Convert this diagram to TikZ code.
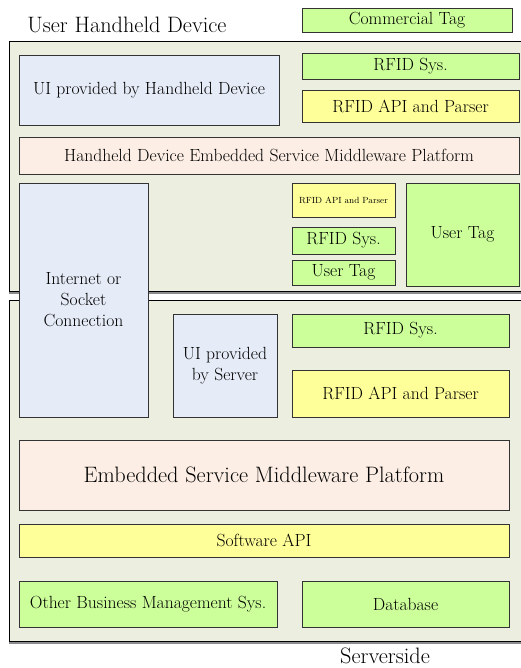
\documentclass[tikz,border=0pt]{standalone}
\usepackage{fontspec}
\setmainfont{Latin Modern Roman}
\usetikzlibrary{shadows}
\definecolor{contfill}{RGB}{236,238,224}
\definecolor{bluefill}{RGB}{230,236,247}
\definecolor{greenfill}{RGB}{204,255,153}
\definecolor{yellowfill}{RGB}{255,255,153}
\definecolor{peachfill}{RGB}{252,238,228}
\definecolor{txt}{RGB}{0,0,0}
\newcommand{\fs}[1]{\fontsize{#1}{21}\selectfont}
\tikzset{
  base/.style={draw=black!80, line width=0.8pt, inner sep=0pt, text=txt, align=center,
     drop shadow={shadow xshift=1.2pt, shadow yshift=-1.2pt, fill=black!55, opacity=1}},
  container/.style={draw=black, line width=1pt, fill=contfill, inner sep=0pt,
     drop shadow={shadow xshift=0pt, shadow yshift=-2.5pt, fill=black!45, opacity=1}},
  bluebox/.style={base, fill=bluefill},
  greenbox/.style={base, fill=greenfill},
  yellowbox/.style={base, fill=yellowfill},
  peachbox/.style={base, fill=peachfill},
}
\newcommand{\bx}[7]{% name, style, x1, y1, x2, y2, text
  \node[#2, minimum width={#5-#3}, minimum height={#6-#4}] (#1) at ({(#3+#5)/2},{(#4+#6)/2}) {#7};}
\begin{document}
\begin{tikzpicture}[x=1pt, y=-1pt]
\clip (0,0) rectangle (521,668);
\fill[white] (0,0) rectangle (521,668);
% containers
\bx{upper}{container}{9}{42}{560}{291}{}
\bx{lower}{container}{9}{300}{560}{641}{}
% titles
\node[text=txt, font=\fs{22.3}] (uhd) at (127,25) {User Handheld Device};
\node[text=txt, font=\fs{22.3}] (srv) at (385,656) {Serverside};
\bx{ctag}{greenbox, font=\fs{17.6}}{302}{8}{512}{32}{Commercial Tag}
% handheld
\bx{uihd}{bluebox, font=\fs{17.6}}{19}{55}{279}{125}{UI provided by Handheld Device}
\bx{rfid1}{greenbox, font=\fs{17.6}}{302}{53}{519}{79}{RFID Sys.}
\bx{api1}{yellowbox, font=\fs{17.6}}{302}{90}{519}{122}{RFID API and Parser}
\bx{hdmw}{peachbox, font=\fs{17.6}}{19}{137}{519}{174}{Handheld Device Embedded Service Middleware Platform}
\bx{api2}{yellowbox, font=\fs{8.9}}{292}{183}{395}{217}{RFID API and Parser}
\bx{rfid2}{greenbox, font=\fs{17.6}}{292}{227}{395}{254}{RFID Sys.}
\bx{utag1}{greenbox, font=\fs{17.6}}{292}{260}{395}{285}{User Tag}
\bx{utag2}{greenbox, font=\fs{17.6}}{406}{183}{519}{286}{User Tag}
% internet
\bx{inet}{bluebox, font=\fs{17.6}}{19}{183}{148}{417}{Internet or\\Socket\\Connection}
% server
\bx{uisrv}{bluebox, font=\fs{17.6}}{173}{314}{277}{417}{UI provided\\by Server}
\bx{rfid3}{greenbox, font=\fs{17.6}}{292}{314}{509}{347}{RFID Sys.}
\bx{api3}{yellowbox, font=\fs{17.6}}{292}{370}{509}{417}{RFID API and Parser}
\bx{esmw}{peachbox, font=\fs{22.3}}{19}{440}{509}{510}{Embedded Service Middleware Platform}
\bx{swapi}{yellowbox, font=\fs{17.6}}{19}{524}{509}{557}{Software API}
\bx{obms}{greenbox, font=\fs{17.6}}{19}{581}{277}{627}{Other Business Management Sys.}
\bx{db}{greenbox, font=\fs{17.6}}{302}{581}{509}{627}{Database}
\end{tikzpicture}
\end{document}
